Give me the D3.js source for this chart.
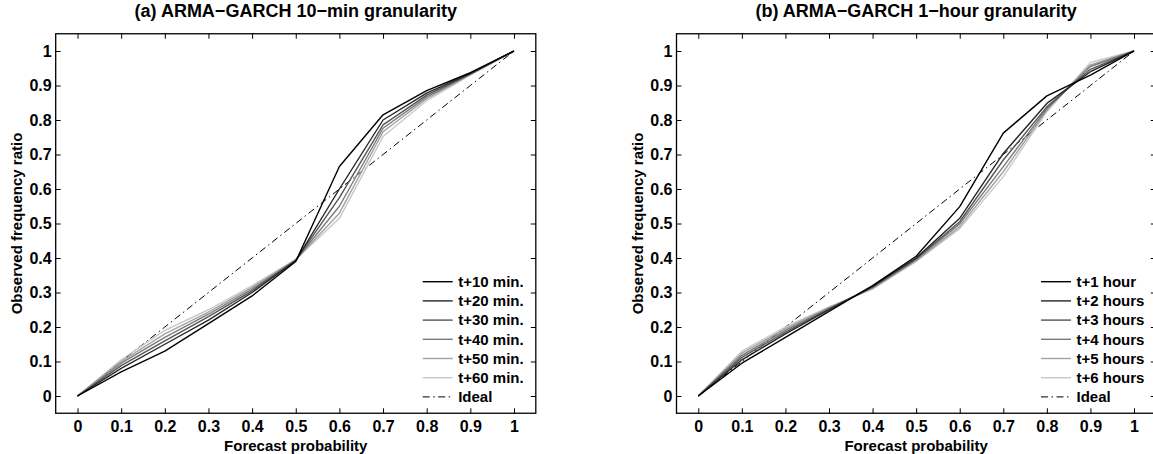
<!DOCTYPE html>
<html>
<head>
<meta charset="utf-8">
<script src="https://cdn.jsdelivr.net/npm/d3@7"></script>
<style>
  body { margin: 0; background: #fff; }
  svg text { font-family: "Liberation Sans", Arial, sans-serif; font-weight: bold; fill: #000; }
</style>
</head>
<body>
<div id="chart"></div>
<script>
// forecast probability bins (x) and axis ticks
var forecastProb = [0, 0.1, 0.2, 0.3, 0.4, 0.5, 0.6, 0.7, 0.8, 0.9, 1];
var axisTicks = [0, 0.1, 0.2, 0.3, 0.4, 0.5, 0.6, 0.7, 0.8, 0.9, 1];

// (a) 10-min granularity
var minTitle = "(a) ARMA\u2212GARCH 10\u2212min granularity";
var minLabels = ["t+10 min.", "t+20 min.", "t+30 min.", "t+40 min.", "t+50 min.", "t+60 min."];
var min10 = [0, 0.070, 0.130, 0.210, 0.290, 0.390, 0.665, 0.815, 0.885, 0.937, 1];
var min20 = [0, 0.080, 0.150, 0.220, 0.300, 0.392, 0.600, 0.800, 0.878, 0.935, 1];
var min30 = [0, 0.088, 0.160, 0.230, 0.305, 0.393, 0.575, 0.786, 0.872, 0.934, 1];
var min40 = [0, 0.095, 0.170, 0.237, 0.310, 0.394, 0.550, 0.776, 0.867, 0.933, 1];
var min50 = [0, 0.100, 0.180, 0.243, 0.315, 0.395, 0.530, 0.766, 0.862, 0.932, 1];
var min60 = [0, 0.105, 0.190, 0.250, 0.320, 0.396, 0.515, 0.752, 0.856, 0.930, 1];

// (b) 1-hour granularity
var hourTitle = "(b) ARMA\u2212GARCH 1\u2212hour granularity";
var hourLabels = ["t+1 hour", "t+2 hours", "t+3 hours", "t+4 hours", "t+5 hours", "t+6 hours"];
var hour1 = [0, 0.095, 0.170, 0.245, 0.320, 0.405, 0.549, 0.762, 0.870, 0.930, 1];
var hour2 = [0, 0.105, 0.180, 0.250, 0.318, 0.400, 0.515, 0.703, 0.848, 0.940, 1];
var hour3 = [0, 0.112, 0.185, 0.252, 0.316, 0.398, 0.505, 0.684, 0.838, 0.947, 1];
var hour4 = [0, 0.118, 0.190, 0.254, 0.314, 0.395, 0.499, 0.665, 0.833, 0.955, 1];
var hour5 = [0, 0.124, 0.195, 0.256, 0.312, 0.392, 0.491, 0.650, 0.829, 0.960, 1];
var hour6 = [0, 0.130, 0.200, 0.258, 0.310, 0.390, 0.485, 0.636, 0.824, 0.967, 1];

var idealLabel = "Ideal";
var xTitle = "Forecast probability";
var yTitle = "Observed frequency ratio";

//*******************************************************
var width = 1153, height = 454;
var plotTop = 33.75, plotBottom = 413.25;
var shades = ["#000000", "#262626", "#555555", "#7a7a7a", "#a2a2a2", "#c8c8c8"];
var dashIdeal = "7,3.5,1.5,3.5";

var svg = d3.select("#chart").append("svg")
    .attr("width", width)
    .attr("height", height);

var panels = [
    { title: minTitle, labels: minLabels, series: [min10, min20, min30, min40, min50, min60], left: 55.7, right: 535.8, ylab: 17, leg: 422.7 },
    { title: hourTitle, labels: hourLabels, series: [hour1, hour2, hour3, hour4, hour5, hour6], left: 676.5, right: 1155.8, ylab: 638, leg: 1041 }
];

panels.forEach(function (p) {
    var x = d3.scaleLinear().domain([-0.05, 1.05]).range([p.left, p.right]);
    var y = d3.scaleLinear().domain([-0.05, 1.05]).range([plotBottom, plotTop]);
    var fmt = d3.format("~g");

    var g = svg.append("g");

    // box
    g.append("rect")
        .attr("x", p.left).attr("y", plotTop)
        .attr("width", p.right - p.left).attr("height", plotBottom - plotTop)
        .style("fill", "none").style("stroke", "#000").style("stroke-width", 1.3);

    // axes, ticks inside like matlab
    var xb = g.append("g").attr("transform", "translate(0," + plotBottom + ")")
        .call(d3.axisBottom(x).tickValues(axisTicks).tickFormat(fmt).tickSizeInner(-5).tickSizeOuter(0).tickPadding(14));
    var yl = g.append("g").attr("transform", "translate(" + p.left + ",0)")
        .call(d3.axisLeft(y).tickValues(axisTicks).tickFormat(fmt).tickSizeInner(-5).tickSizeOuter(0).tickPadding(4));
    g.append("g").attr("transform", "translate(0," + plotTop + ")")
        .call(d3.axisTop(x).tickValues(axisTicks).tickFormat("").tickSizeInner(-5).tickSizeOuter(0));
    g.append("g").attr("transform", "translate(" + p.right + ",0)")
        .call(d3.axisRight(y).tickValues(axisTicks).tickFormat("").tickSizeInner(-5).tickSizeOuter(0));

    g.selectAll(".domain").remove();
    g.selectAll(".tick line").style("stroke", "#000").style("stroke-width", 1);
    xb.selectAll("text").style("font-size", "16px").attr("dy", "0.32em");
    yl.selectAll("text").style("font-size", "16px");

    // ideal diagonal
    var line = d3.line()
        .x(function (d, i) { return x(forecastProb[i]); })
        .y(function (d) { return y(d); });

    g.append("path")
        .datum(forecastProb)
        .attr("d", line)
        .style("fill", "none")
        .style("stroke", "#000")
        .style("stroke-width", 1)
        .style("stroke-dasharray", dashIdeal);

    // reliability curves, light ones first
    p.series.slice().reverse().forEach(function (s, k) {
        var i = p.series.length - 1 - k;
        g.append("path")
            .datum(s)
            .attr("d", line)
            .style("fill", "none")
            .style("stroke", shades[i])
            .style("stroke-width", 1.4)
            .style("stroke-linejoin", "round");
    });

    // titles
    g.append("text")
        .attr("x", (x(0) + x(1)) / 2).attr("y", 17)
        .attr("text-anchor", "middle")
        .style("font-size", "18px")
        .text(p.title);

    g.append("text")
        .attr("x", (x(0) + x(1)) / 2).attr("y", 451)
        .attr("text-anchor", "middle")
        .style("font-size", "15px")
        .text(xTitle);

    g.append("text")
        .attr("transform", "translate(" + p.ylab + "," + ((y(0) + y(1)) / 2) + ") rotate(-90)")
        .attr("text-anchor", "middle")
        .attr("dy", "0.35em")
        .style("font-size", "15px")
        .text(yTitle);

    // legend
    var items = p.labels.map(function (l, i) { return { label: l, color: shades[i], dash: null }; });
    items.push({ label: idealLabel, color: "#000", dash: dashIdeal });

    var leg = g.selectAll(".leg")
        .data(items)
        .enter()
        .append("g")
        .attr("transform", function (d, i) { return "translate(" + p.leg + "," + (281.7 + i * 19.2) + ")"; });

    leg.append("line")
        .attr("x1", 0).attr("x2", 30)
        .style("stroke", function (d) { return d.color; })
        .style("stroke-width", function (d) { return d.dash ? 1 : 1.4; })
        .style("stroke-dasharray", function (d) { return d.dash; });

    leg.append("text")
        .attr("x", 35.5).attr("dy", "0.35em")
        .style("font-size", "15px")
        .text(function (d) { return d.label; });
});
</script>
</body>
</html>
